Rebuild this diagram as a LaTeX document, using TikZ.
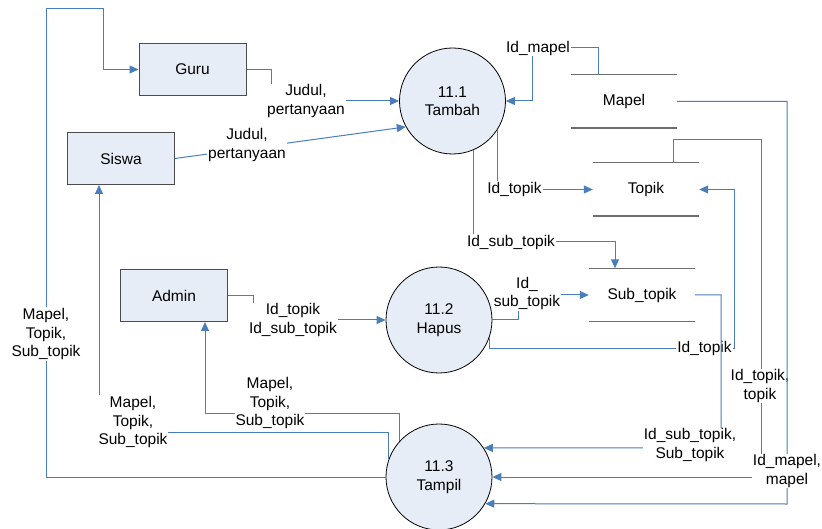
\documentclass[tikz,border=0pt]{standalone}
\usepackage{fontspec}
\setmainfont{Liberation Sans}
\usetikzlibrary{arrows.meta}
\definecolor{flowblue}{HTML}{4A7EBB}
\definecolor{boxfill}{HTML}{E7EDF7}
\definecolor{storegray}{HTML}{6E6E6E}
\begin{document}
\begin{tikzpicture}[x=1pt,y=-1pt,
  txt/.style={font=\fontsize{15.5}{18.5}\selectfont, align=center},
  ent/.style={txt, draw=black!70, line width=1pt, fill=boxfill, minimum width=107pt, minimum height=52pt, inner sep=0pt},
  proc/.style={txt, circle, draw=black, line width=0.8pt, fill=boxfill, minimum size=106pt, inner sep=0pt},
  store/.style={txt, minimum width=106pt, minimum height=53pt, inner sep=0pt},
  sline/.style={draw=storegray, line width=1.4pt},
  flow/.style={draw=flowblue, line width=1pt, -{Triangle[length=9pt,width=8pt]}},
  lbl/.style={txt, fill=white, inner sep=1pt}]
\useasboundingbox (0,0) rectangle (822,529);

% entities
\node[ent] (guru) at (192.5,69.5) {Guru};
\node[ent] (siswa) at (121,158.5) {Siswa};
\node[ent] (admin) at (174,295.5) {Admin};

% processes
\node[proc] (p1) at (452.5,101) {11.1\\Tambah};
\node[proc] (p2) at (439,320) {11.2\\Hapus};
\node[proc] (p3) at (439,477) {11.3\\Tampil};

% data stores
\node[store] (mapel) at (624,101.5) {Mapel};
\node[store] (topik) at (646,189.5) {Topik};
\node[store] (sub) at (642,295) {Sub\_topik};
\foreach \s in {mapel,topik,sub}{
  \draw[sline] (\s.north west) -- (\s.north east);
  \draw[sline] (\s.south west) -- (\s.south east);
}

% 11.3 -> Guru (big loop)
\draw[flow] (p3.west) -- (46,477) -- (46,9) -- (103,9) |- (guru.west);
\node[lbl] (l1) at (46,334) {Mapel,\\Topik,\\Sub\_topik};

% 11.3 -> Siswa
\draw[flow] (p3.160.6) |- (99,432) -- (siswa.south -| 99,0);
\node[lbl] (l2) at (133,422) {Mapel,\\Topik,\\Sub\_topik};

% 11.3 -> Admin
\draw[flow] (p3.137.4) |- (205,413) -- (admin.south -| 205,0);
\node[lbl] (l3) at (270,403) {Mapel,\\Topik,\\Sub\_topik};

% Guru -> 11.1
\draw[flow] (guru.east) -| (271,101) -- (p1.west);
\node[lbl] (l4) at (306,101) {Judul,\\pertanyaan};

% Siswa -> 11.1
\draw[flow] (siswa.east) -- (p1.209.6);
\node[lbl] (l5) at (247,145) {Judul,\\pertanyaan};

% Mapel -> 11.1
\draw[flow] (mapel.north -| 598,0) |- (532,48) |- (p1.east);
\node[lbl] (l6) at (538,48) {Id\_mapel};

% 11.1 -> Topik
\draw[flow] (p1.-33.7) |- (topik.west);
\node[lbl] (l7) at (514.5,189) {Id\_topik};

% 11.1 -> Sub_topik
\draw[flow] (p1.-67.5) |- (615,242) -- (sub.north -| 615,0);
\node[lbl] (l8) at (511,242) {Id\_sub\_topik};

% Admin -> 11.2
\draw[flow] (admin.east) -| (253,320) -- (p2.west);
\node[lbl] (l9) at (293,320) {Id\_topik\\Id\_sub\_topik};

% 11.2 -> Sub_topik
\draw[flow] (p2.east) -| (518,295) -- (sub.west);
\node[lbl] (l10) at (527,293.5) {Id\_\\sub\_topik};

% 11.2 -> Topik
\draw[flow] (p2.-19.4) |- (734,348) |- (topik.east);
\node[lbl] (l11) at (704.5,348) {Id\_topik};

% Topik -> 11.3
\draw[flow] (topik.north -| 673,0) |- (761,140) |- (p3.east);
\node[lbl] (l12) at (760,386) {Id\_topik,\\topik};

% Sub_topik -> 11.3
\draw[flow] (sub.east) -| (721,448) -- (p3.33.2);
\node[lbl] (l13) at (690,445) {Id\_sub\_topik,\\Sub\_topik};

% Mapel -> 11.3
\draw[flow] (mapel.east) -| (787,504) -- (p3.-30.6);
\node[lbl] (l14) at (787,471) {Id\_mapel,\\mapel};
\end{tikzpicture}
\end{document}
